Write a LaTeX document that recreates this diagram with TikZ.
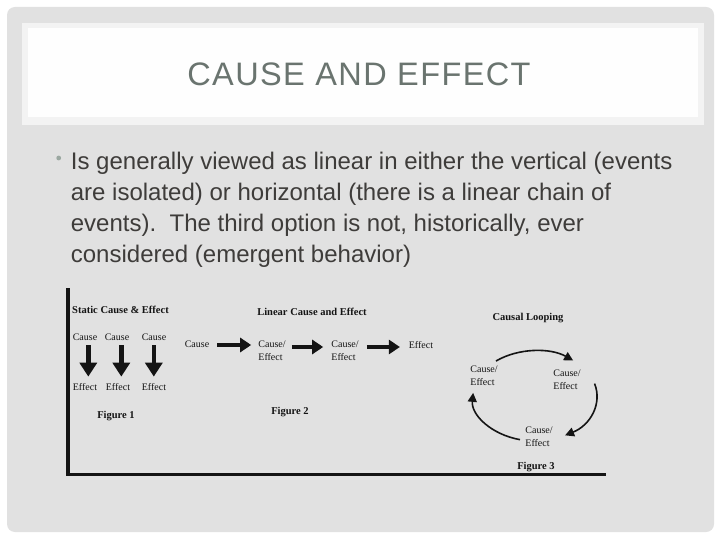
\documentclass[tikz,border=0pt]{standalone}
\usepackage{fontspec}
\setmainfont{Liberation Sans}
\newfontfamily\figfont{Liberation Serif}
\newfontfamily\titlefont[LetterSpace=4.3]{Liberation Sans}
\usetikzlibrary{arrows.meta}
\definecolor{slidegray}{RGB}{225,225,225}
\definecolor{titlegray}{RGB}{106,116,111}
\definecolor{bodytext}{RGB}{62,60,58}
\definecolor{bulletcol}{RGB}{155,168,161}
\definecolor{figink}{RGB}{20,20,20}
\definecolor{boxedge}{RGB}{243,243,243}
\definecolor{boxfill}{RGB}{254,254,254}
\begin{document}
\begin{tikzpicture}[x=1pt,y=-1pt,
  bodyline/.style={anchor=base west,inner sep=0,text=bodytext,font=\fontsize{24}{29}\selectfont},
  figlabel/.style={inner sep=0,text=figink,font=\figfont\fontsize{10}{13}\selectfont,align=left},
  figtitle/.style={inner sep=0,text=figink,font=\figfont\bfseries\fontsize{10.5}{13}\selectfont},
  harr/.style={draw=figink,line width=4pt,-{Triangle[length=11pt,width=14pt]}},
  darr/.style={draw=figink,line width=4.5pt,-{Triangle[length=14pt,width=17pt]}},
  looparr/.style={draw=figink,line width=1.6pt,-{Triangle[length=9pt,width=9pt]}},
  axisline/.style={draw=figink,line width=3.5pt}
]
\useasboundingbox (0,0) rectangle (720,540);
\fill[white] (0,0) rectangle (720,540);
\fill[slidegray,rounded corners=8pt] (7,7) rectangle (714,532);
% title box
\fill[boxedge] (22,23) rectangle (704,125);
\fill[boxfill] (28,28) rectangle (698,117);
\node[anchor=base,inner sep=0,text=titlegray,font=\titlefont\fontsize{32.5}{36}\selectfont] (title) at (359,86) {CAUSE AND EFFECT};
% bullet
\fill[bulletcol] (58.7,158) circle[radius=2.4pt];
\node[bodyline] (b1) at (70.7,170) {Is generally viewed as linear in either the vertical (events};
\node[bodyline] (b2) at (70.7,200.7) {are isolated) or horizontal (there is a linear chain of};
\node[bodyline] (b3) at (70.7,231.4) {events).\ \ The third option is not, historically, ever};
\node[bodyline] (b4) at (70.7,262) {considered (emergent behavior)};
% axes
\coordinate (axtop) at (68,288);
\coordinate (axend) at (606,474.5);
\draw[axisline] (axtop) |- (axend);
% figure 1
\node[figtitle] (f1t) at (120.5,309.5) {Static Cause \& Effect};
\node[figlabel] (c1) at (85,337) {Cause};
\node[figlabel] (c2) at (117,337) {Cause};
\node[figlabel] (c3) at (154,337) {Cause};
\node[figlabel] (e1) at (85,387) {Effect};
\node[figlabel] (e2) at (118,387) {Effect};
\node[figlabel] (e3) at (154,387) {Effect};
\draw[darr,shorten <=4.7pt,shorten >=6.6pt] (c1.south -| 88.3,0) -- (e1.north -| 88.3,0);
\draw[darr,shorten <=4.7pt,shorten >=6.6pt] (c2.south -| 121.3,0) -- (e2.north -| 121.3,0);
\draw[darr,shorten <=4.7pt,shorten >=6.6pt] (c3.south -| 153.8,0) -- (e3.north -| 153.8,0);
\node[figtitle] (f1) at (116,416) {Figure 1};
% figure 2
\node[figtitle] (f2t) at (312,311.5) {Linear Cause and Effect};
\node[figlabel] (L0) at (197,344) {Cause};
\node[figlabel] (L1) at (272,350.5) {Cause/\\Effect};
\node[figlabel] (L2) at (345,351) {Cause/\\Effect};
\node[figlabel] (L3) at (421,345) {Effect};
\draw[harr,shorten <=8pt,shorten >=7pt] (L0.east |- 0,345) -- (L1.west |- 0,345);
\draw[harr,shorten <=6pt,shorten >=8pt] (L1.east |- 0,347) -- (L2.west |- 0,347);
\draw[harr,shorten <=8pt,shorten >=8.8pt] (L2.east |- 0,347) -- (L3.west |- 0,347);
\node[figtitle] (f2) at (290,412) {Figure 2};
% figure 3
\node[figtitle] (f3t) at (528,318) {Causal Looping};
\node[figlabel] (R1) at (484,376) {Cause/\\Effect};
\node[figlabel] (R2) at (567,380) {Cause/\\Effect};
\node[figlabel] (R3) at (539,437) {Cause/\\Effect};
\coordinate (cc) at (535,396);
\draw[looparr] (cc) ++(129:62pt and 45pt) arc[start angle=129,end angle=52,x radius=62pt,y radius=45pt];
\draw[looparr] (cc) ++(16:62pt and 45pt) arc[start angle=16,end angle=-61,x radius=62pt,y radius=45pt];
\draw[looparr] (cc) ++(-104:62pt and 45pt) arc[start angle=-104,end angle=-184,x radius=62pt,y radius=45pt];
\node[figtitle] (f3) at (536,467) {Figure 3};
\end{tikzpicture}
\end{document}
